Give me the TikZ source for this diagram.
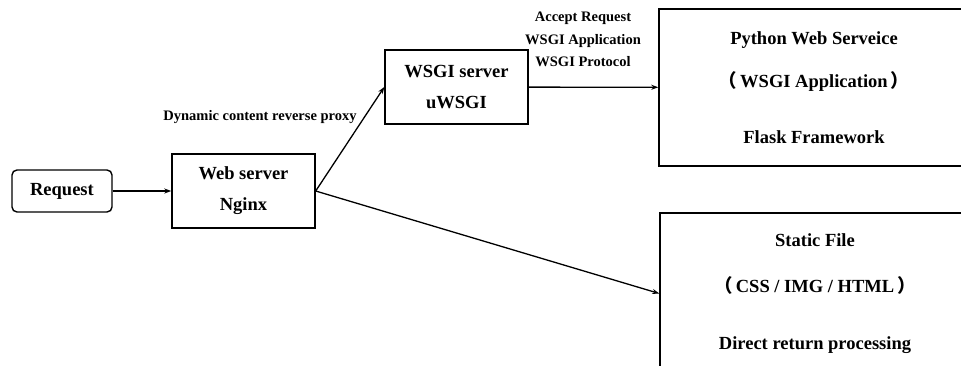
\documentclass[tikz,border=0pt]{standalone}
\usepackage{fontspec}
\setmainfont{Liberation Serif}
\newfontfamily\cjk{Noto Sans CJK SC}
\usetikzlibrary{arrows.meta}
\tikzset{%
	box/.style={draw,line width=1.4pt,inner sep=0pt,align=center,%
	font=\bfseries\fontsize{18.5}{31}\selectfont,name=#1},
	tag/.style={inner sep=0pt,align=center,font=\bfseries\fontsize{14.5}{22.5}\selectfont,name=#1},
	link/.style={line width=1.3pt,-{Stealth[length=7pt,width=5pt]}}
}

\begin{document}
\begin{tikzpicture}[x=1pt,y=-1pt]
				\useasboundingbox (0,0) rectangle (961,365);
				\node [box=req, rounded corners=5pt, minimum width=100pt, minimum height=42pt] at (62,191) {Request};
				\node [box=web, minimum width=143pt, minimum height=74pt] at (243.5,191) {Web server\\Nginx};
				\node [box=wsgi, minimum width=143pt, minimum height=74pt] at (456.5,87) {WSGI server\\uWSGI};
				% right boxes run past the page edge
				\node [box=app, minimum width=310pt, minimum height=157pt] at (814,87.5)
					{Python Web Serveice\\[12pt]{\cjk（}\,WSGI Application\,{\cjk）}\\[25pt]Flask Framework};
				\node [box=static, minimum width=310pt, minimum height=161pt] at (815,293.5)
					{Static File\\[15pt]{\cjk（}\,CSS / IMG / HTML\,{\cjk）}\\[26pt]Direct return processing};
				\node [tag=proxy] at (260,117) {Dynamic content reverse proxy};
				\node [tag=accept] at (583,39.5) {Accept Request\\WSGI Application\\WSGI Protocol};
				\draw [link] (req) -- (web);
				\draw [link] (web.east) -- (wsgi.west);
				\draw [link] (web.east) -- (static.west);
				\draw [link] (wsgi) -- (app);
			\end{tikzpicture}
\end{document}
